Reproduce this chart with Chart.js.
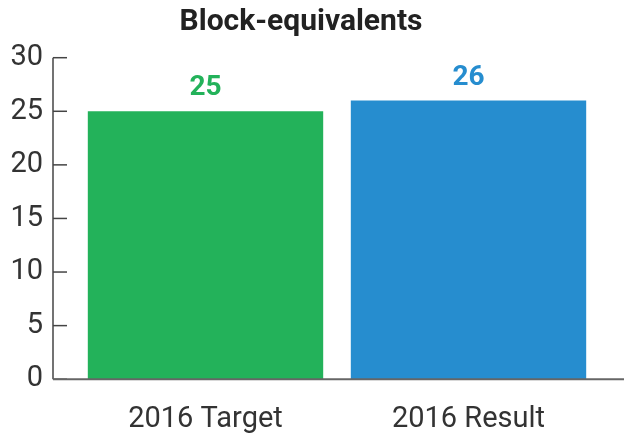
<!DOCTYPE html>
<html>
<head>
<meta charset="utf-8">
<script src="https://cdn.jsdelivr.net/npm/chart.js@4"></script>
<style>
    html, body { margin: 0; padding: 0; background: #fff; }
    #wrap { width: 624px; height: 434px; }
</style>
</head>
<body>
<div id="wrap"><canvas id="block-chart"></canvas></div>
<script>
//DATOS
const categories = ['2016 Target', '2016 Result'];
const values = [25, 26];
const barColors = ['#23b25a', '#268dcf'];
const yTicks = [0, 5, 10, 15, 20, 25, 30];

const FONT = 'Roboto, "Liberation Sans", sans-serif';

//EJES DIBUJADOS A MANO
const axisPlugin = {
    id: 'axisLines',
    afterDatasetsDraw(chart) {
        const ctx = chart.ctx;
        const area = chart.chartArea;
        const y = chart.scales.y;
        const axisX = area.left - 21;

        ctx.save();
        ctx.strokeStyle = '#444';
        ctx.lineWidth = 1.5;

        ctx.beginPath();
        ctx.moveTo(axisX, y.getPixelForValue(30));
        ctx.lineTo(axisX, y.getPixelForValue(0));
        ctx.stroke();

        y.ticks.forEach(function (t) {
            const py = y.getPixelForValue(t.value);
            ctx.beginPath();
            ctx.moveTo(axisX, py);
            ctx.lineTo(axisX + 14, py);
            ctx.stroke();
        });

        ctx.strokeStyle = '#666';
        ctx.lineWidth = 2;
        ctx.beginPath();
        ctx.moveTo(axisX, y.getPixelForValue(0));
        ctx.lineTo(chart.width, y.getPixelForValue(0));
        ctx.stroke();

        //valores encima de las barras
        const meta = chart.getDatasetMeta(0);
        ctx.font = 'bold 28px ' + FONT;
        ctx.textAlign = 'center';
        ctx.textBaseline = 'middle';
        meta.data.forEach(function (bar, i) {
            ctx.fillStyle = barColors[i];
            ctx.fillText(String(values[i]), bar.x, bar.y - 23);
        });
        ctx.restore();
    }
};

new Chart(document.getElementById('block-chart'), {
    type: 'bar',
    data: {
        labels: categories,
        datasets: [{
            data: values,
            backgroundColor: barColors,
            borderWidth: 0,
            categoryPercentage: 1,
            barPercentage: 0.895
        }]
    },
    options: {
        responsive: true,
        maintainAspectRatio: false,
        animation: false,
        layout: {
            padding: { top: 0.5, left: 2, right: 24, bottom: -26 }
        },
        plugins: {
            legend: { display: false },
            tooltip: { enabled: false },
            title: {
                display: true,
                text: 'Block-equivalents',
                color: '#222',
                font: { family: FONT, size: 30, weight: 'bold', lineHeight: 1.2 },
                padding: { top: 4, bottom: 17.2 }
            }
        },
        scales: {
            x: {
                grid: { display: false, drawTicks: false },
                border: { display: false },
                ticks: {
                    color: '#333',
                    padding: 23,
                    font: { family: FONT, size: 29, lineHeight: 1.2 }
                }
            },
            y: {
                min: 0,
                max: 30,
                afterFit: function (scale) { scale.width = 72; },
                afterBuildTicks: function (scale) {
                    scale.ticks = yTicks.map(function (v) { return { value: v }; });
                },
                grid: { display: false, drawTicks: false },
                border: { display: false },
                ticks: {
                    color: '#333',
                    padding: 31,
                    font: { family: FONT, size: 29, lineHeight: 1.2 }
                }
            }
        }
    },
    plugins: [axisPlugin]
});
</script>
</body>
</html>
